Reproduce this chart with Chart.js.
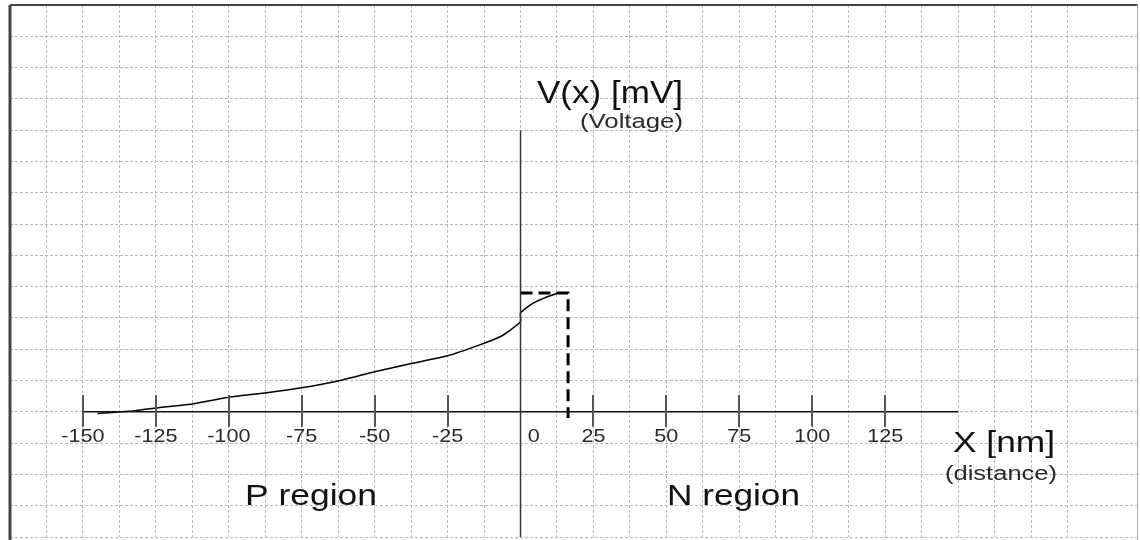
<!DOCTYPE html>
<html>
<head>
<meta charset="utf-8">
<script src="https://cdn.jsdelivr.net/npm/chart.js@4.4.1/dist/chart.umd.min.js"></script>
<style>
  html, body { margin: 0; padding: 0; background: #fff; }
  #wrap { width: 1140px; height: 540px; }
</style>
</head>
<body>
<div id="wrap"><canvas id="pn"></canvas></div>
<script>
// --- data (x in nm, y in grid units of V) ---
const curveX = [-145, -141, -133, -124, -112, -99, -87, -75, -61, -50, -37, -25, -14, -7, -3.4, 0, 0, 4.5, 9, 13];
const curveY = [-0.05, -0.03, 0.03, 0.13, 0.26, 0.48, 0.61, 0.77, 1.02, 1.28, 1.55, 1.79, 2.14, 2.4, 2.62, 2.88, 3.16, 3.48, 3.67, 3.8];

const boxX = [0, 16.3, 16.3];
const boxY = [3.8, 3.8, -0.2];

const axisX = [-150, 150];
const axisYTop = 9;

const tickValues = [-150, -125, -100, -75, -50, -25, 25, 50, 75, 100, 125];
const tickLabels = ['-150', '-125', '-100', '-75', '-50', '-25', '0', '25', '50', '75', '100', '125'];
const labelValues = [-150, -125, -100, -75, -50, -25, 4.5, 25, 50, 75, 100, 125];

const FONT = '"Liberation Sans", Arial, sans-serif';

const pts = (xs, ys) => xs.map((x, i) => ({ x: x, y: ys[i] }));

// draw text squeezed/stretched to a given width (the source is horizontally stretched)
function fitText(ctx, str, x, base, size, width, color, align) {
    ctx.save();
    ctx.font = size + 'px ' + FONT;
    const w = ctx.measureText(str).width;
    const k = width ? width / w : 1.2;
    const left = align === 'center' ? x - (w * k) / 2 : x;
    ctx.translate(left, base);
    ctx.scale(k, 1);
    ctx.fillStyle = color;
    ctx.textAlign = 'left';
    ctx.textBaseline = 'alphabetic';
    ctx.fillText(str, 0, 0);
    ctx.restore();
}

const decor = {
    id: 'decor',
    afterDraw(chart) {
        const ctx = chart.ctx;
        const xs = chart.scales.x, ys = chart.scales.y;
        const a = chart.chartArea;

        // frame
        ctx.save();
        ctx.strokeStyle = '#444';
        ctx.lineWidth = 2;
        ctx.beginPath(); ctx.moveTo(a.left, a.top); ctx.lineTo(a.right, a.top); ctx.stroke();
        ctx.lineWidth = 3;
        ctx.beginPath(); ctx.moveTo(a.left, a.top); ctx.lineTo(a.left, 540); ctx.stroke();
        ctx.strokeStyle = '#aaa';
        ctx.lineWidth = 1;
        ctx.beginPath(); ctx.moveTo(a.right, a.top); ctx.lineTo(a.right, 540); ctx.stroke();

        // tick marks on the x axis
        ctx.strokeStyle = '#555';
        ctx.lineWidth = 2;
        tickValues.forEach(v => {
            const px = Math.round(xs.getPixelForValue(v));
            ctx.beginPath();
            ctx.moveTo(px, ys.getPixelForValue(0.54));
            ctx.lineTo(px, ys.getPixelForValue(-0.48));
            ctx.stroke();
        });
        ctx.restore();

        // tick labels
        tickLabels.forEach((t, i) => {
            fitText(ctx, t, xs.getPixelForValue(labelValues[i]), 442, 18, 0, '#2a2a2a', 'center');
        });

        // axis titles and region names
        fitText(ctx, 'V(x) [mV]', 537, 103, 31, 146, '#111');
        fitText(ctx, '(Voltage)', 580, 128, 20, 103, '#2a2a2a');
        fitText(ctx, 'X [nm]', 953, 452, 29, 102, '#111');
        fitText(ctx, '(distance)', 945, 480, 20, 112, '#2a2a2a');
        fitText(ctx, 'P region', 245, 505, 30, 132, '#111');
        fitText(ctx, 'N region', 667, 505, 30, 133, '#111');
    }
};

const gridOpts = {
    color: '#b9b9b9',
    lineWidth: 1,
    drawTicks: false
};

new Chart(document.getElementById('pn').getContext('2d'), {
    type: 'line',
    data: {
        datasets: [
            {
                label: 'x axis',
                data: pts(axisX, [0, 0]),
                borderColor: '#111',
                borderWidth: 1.6,
                pointRadius: 0
            },
            {
                label: 'y axis',
                data: pts([0, 0], [axisYTop, -4]),
                borderColor: '#333',
                borderWidth: 1.5,
                pointRadius: 0
            },
            {
                label: 'V(x)',
                data: pts(curveX, curveY),
                borderColor: '#000',
                borderWidth: 1.5,
                pointRadius: 0,
                tension: 0.15
            },
            {
                label: 'box',
                data: pts(boxX, boxY),
                borderColor: '#000',
                borderWidth: 3,
                borderDash: [12, 6],
                pointRadius: 0
            }
        ]
    },
    options: {
        responsive: true,
        maintainAspectRatio: false,
        animation: false,
        layout: { padding: { left: 10, top: 5, right: 2.5, bottom: 3 } },
        plugins: { legend: { display: false }, tooltip: { enabled: false } },
        scales: {
            x: {
                type: 'linear',
                min: -175,
                max: 211.5,
                ticks: { display: false, stepSize: 12.5 },
                grid: gridOpts,
                border: { display: false, dash: [3, 2] },
                afterFit: s => { s.height = 0; }
            },
            y: {
                type: 'linear',
                min: -4,
                max: 13,
                ticks: { display: false, stepSize: 1 },
                grid: gridOpts,
                border: { display: false, dash: [3, 2] },
                afterFit: s => { s.width = 0; }
            }
        }
    },
    plugins: [decor]
});
</script>
</body>
</html>
